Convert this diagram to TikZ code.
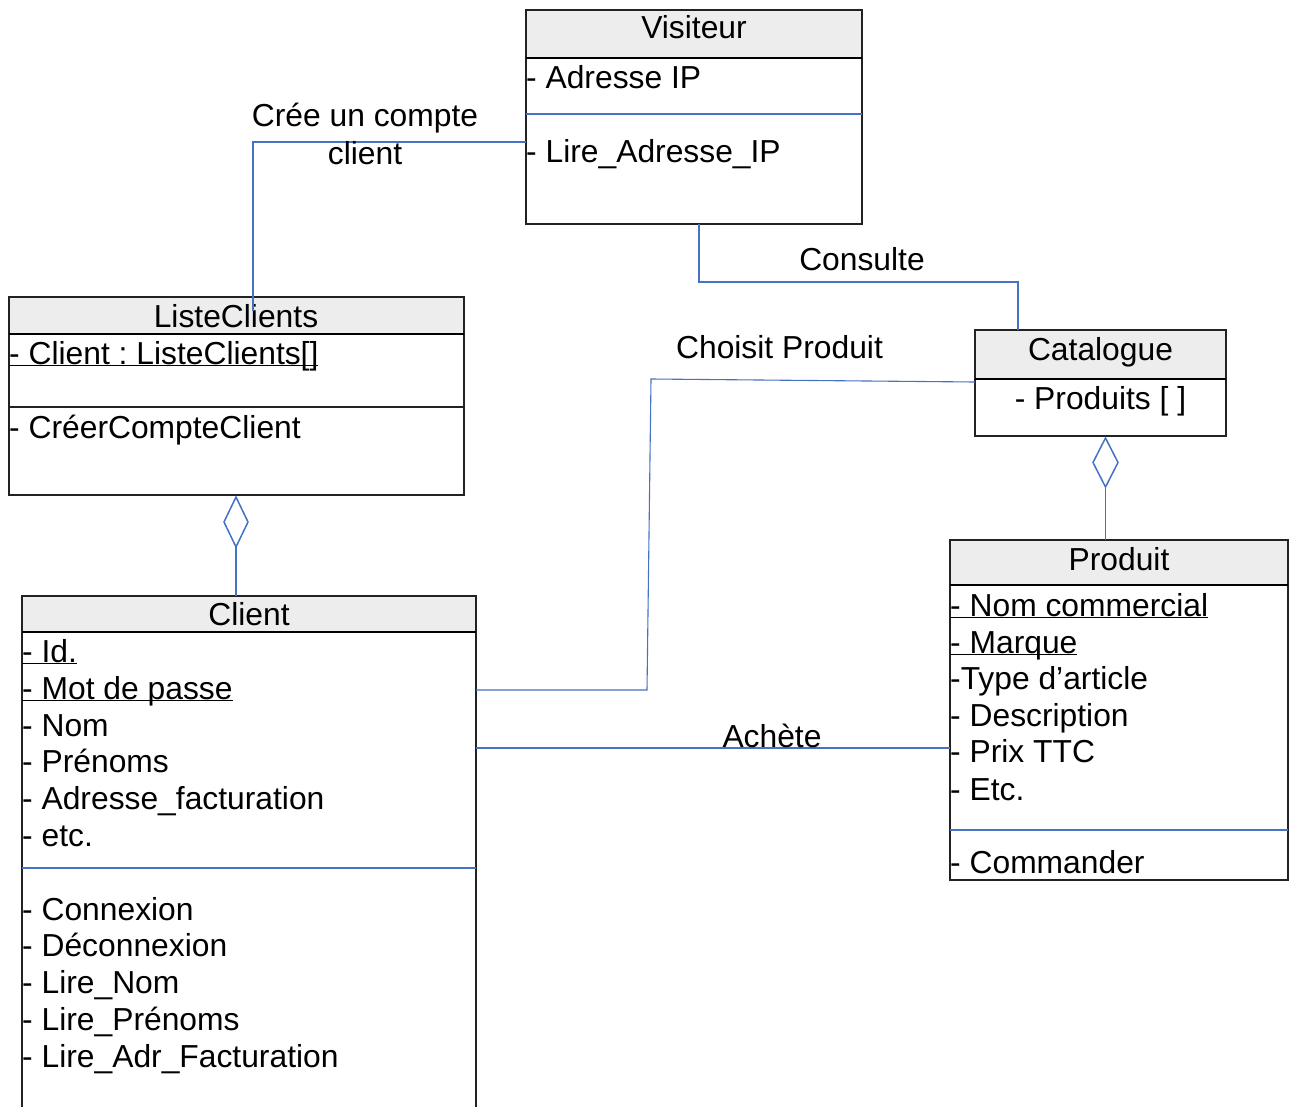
\documentclass[tikz,border=0pt]{standalone}
\usepackage{fontspec}
\setmainfont{Liberation Sans}
\usetikzlibrary{calc}

\definecolor{linkblue}{HTML}{4472C4}
\definecolor{headgray}{HTML}{EDEDED}
\definecolor{frame}{HTML}{222222}

\newcommand\umlfont{\fontsize{31.8}{37}\selectfont\frenchspacing}
\newcommand\attrul[1]{\underline{\smash{#1}}}

\tikzset{
  classbox/.style={draw=frame, line width=1.3pt, fill=white, inner sep=0pt,
                   outer sep=0pt, anchor=north west},
  headbox/.style={draw=frame, line width=1.3pt, fill=headgray, inner sep=0pt,
                  outer sep=0pt, anchor=north west},
  headrule/.style={black, line width=1.8pt},
  bluerule/.style={linkblue, line width=1.1pt},
  blackrule/.style={frame, line width=1.3pt},
  assoc/.style={linkblue, line width=1.1pt},
  agg/.style={linkblue, line width=1.5pt, fill=white, line join=miter},
  txt/.style={inner sep=0pt, anchor=base west, font=\umlfont},
  ctxt/.style={inner sep=0pt, anchor=base, font=\umlfont},
}

\begin{document}
\begin{tikzpicture}[x=1pt, y=-1pt]
\useasboundingbox (0,0) rectangle (1292,1107);

% ---------- Visiteur ----------
\node[classbox, minimum width=336, minimum height=214] (visiteur) at (526,10) {};
\node[headbox, minimum width=336, minimum height=48] (visiteurhead) at (526,10) {};
\draw[headrule] (visiteurhead.south west) -- (visiteurhead.south east);
\draw[bluerule] (visiteur.west |- 0,114) -- (visiteur.east |- 0,114);
\node[ctxt] (visiteurtitle) at (694,39) {Visiteur};
\node[txt] (visiteura1) at (526,89) {- Adresse IP};
\node[txt] (visiteurm1) at (526,163) {- Lire\_Adresse\_IP};

% ---------- ListeClients ----------
\node[classbox, minimum width=455, minimum height=198] (liste) at (9,297) {};
\node[headbox, minimum width=455, minimum height=37] (listehead) at (9,297) {};
\draw[headrule] (listehead.south west) -- (listehead.south east);
\draw[blackrule] (liste.west |- 0,407) -- (liste.east |- 0,407);
\node[ctxt] (listetitle) at (236,327) {ListeClients};
\node[txt] (listea1) at (9,364) {\attrul{- Client : ListeClients[]}};
\node[txt] (listem1) at (9,438) {- CréerCompteClient};

% ---------- Client ----------
\node[classbox, minimum width=454, minimum height=530] (client) at (22,596) {};
\node[headbox, minimum width=454, minimum height=36] (clienthead) at (22,596) {};
\draw[headrule] (clienthead.south west) -- (clienthead.south east);
\draw[bluerule] (client.west |- 0,868) -- (client.east |- 0,868);
\node[ctxt] (clienttitle) at (249,625) {Client};
\node[txt] (clienta1) at (22,662) {\attrul{- Id.}};
\node[txt] (clienta2) at (22,699) {\attrul{- Mot de passe}};
\node[txt] (clienta3) at (22,736) {- Nom};
\node[txt] (clienta4) at (22,772) {- Prénoms};
\node[txt] (clienta5) at (22,809) {- Adresse\_facturation};
\node[txt] (clienta6) at (22,846) {- etc.};
\node[txt] (clientm1) at (22,920) {- Connexion};
\node[txt] (clientm2) at (22,956) {- Déconnexion};
\node[txt] (clientm3) at (22,993) {- Lire\_Nom};
\node[txt] (clientm4) at (22,1030) {- Lire\_Prénoms};
\node[txt] (clientm5) at (22,1067) {- Lire\_Adr\_Facturation};

% ---------- Catalogue ----------
\node[classbox, minimum width=251, minimum height=106] (catalogue) at (975,330) {};
\node[headbox, minimum width=251, minimum height=49] (cataloguehead) at (975,330) {};
\draw[headrule] (cataloguehead.south west) -- (cataloguehead.south east);
\node[ctxt] (cataloguetitle) at (1100.5,360) {Catalogue};
\node[ctxt] (cataloguea1) at (1100.5,409) {- Produits [ ]};

% ---------- Produit ----------
\node[classbox, minimum width=338, minimum height=340] (produit) at (950,540) {};
\node[headbox, minimum width=338, minimum height=45] (produithead) at (950,540) {};
\draw[headrule] (produithead.south west) -- (produithead.south east);
\draw[bluerule] (produit.west |- 0,830) -- (produit.east |- 0,830);
\node[ctxt] (produittitle) at (1119,570) {Produit};
\node[txt] (produita1) at (950,616) {\attrul{- Nom commercial}};
\node[txt] (produita2) at (950,653) {\attrul{- Marque}};
\node[txt] (produita3) at (950,689) {-Type d’article};
\node[txt] (produita4) at (950,726) {- Description};
\node[txt] (produita5) at (950,762) {- Prix TTC};
\node[txt] (produita6) at (950,800) {- Etc.};
\node[txt] (produitm1) at (950,873) {- Commander};

% ---------- Associations ----------
\coordinate (listeend) at (253,311);
\draw[assoc] (visiteur.west |- 0,142) -| (listeend);
\node[ctxt] (creelabel1) at (365,127) {Crée un compte};
\node[ctxt] (creelabel2) at (365,165) {client};

\draw[assoc] (visiteur.south -| 699,0) -- ++(0,58) -| (catalogue.north -| 1018,0);
\node[ctxt] (consultelabel) at (862,270) {Consulte};

\draw[assoc] (catalogue.west |- 0,382) -- (651,379) -- (647,690) -- (client.east |- 0,690);
\node[ctxt] (choisitlabel) at (779.5,358) {Choisit Produit};

\draw[assoc] (client.east |- 0,748) -- (produit.west |- 0,748);
\node[ctxt] (achetelabel) at (772,747) {Achète};

% ---------- Aggregations ----------
\draw[assoc] (liste.south -| 236,0) ++(0,51) -- (client.north -| 236,0);
\draw[agg] (liste.south -| 236,0) ++(0,2) -- ++(12,25) -- ++(-12,25) -- ++(-12,-25) -- cycle;

\draw[assoc] (catalogue.south -| 1105.5,0) ++(0,51) -- (produit.north -| 1105.5,0);
\draw[agg] (catalogue.south -| 1105.5,0) ++(0,2) -- ++(12.5,24.5) -- ++(-12.5,24.5) -- ++(-12.5,-24.5) -- cycle;
\end{tikzpicture}
\end{document}
